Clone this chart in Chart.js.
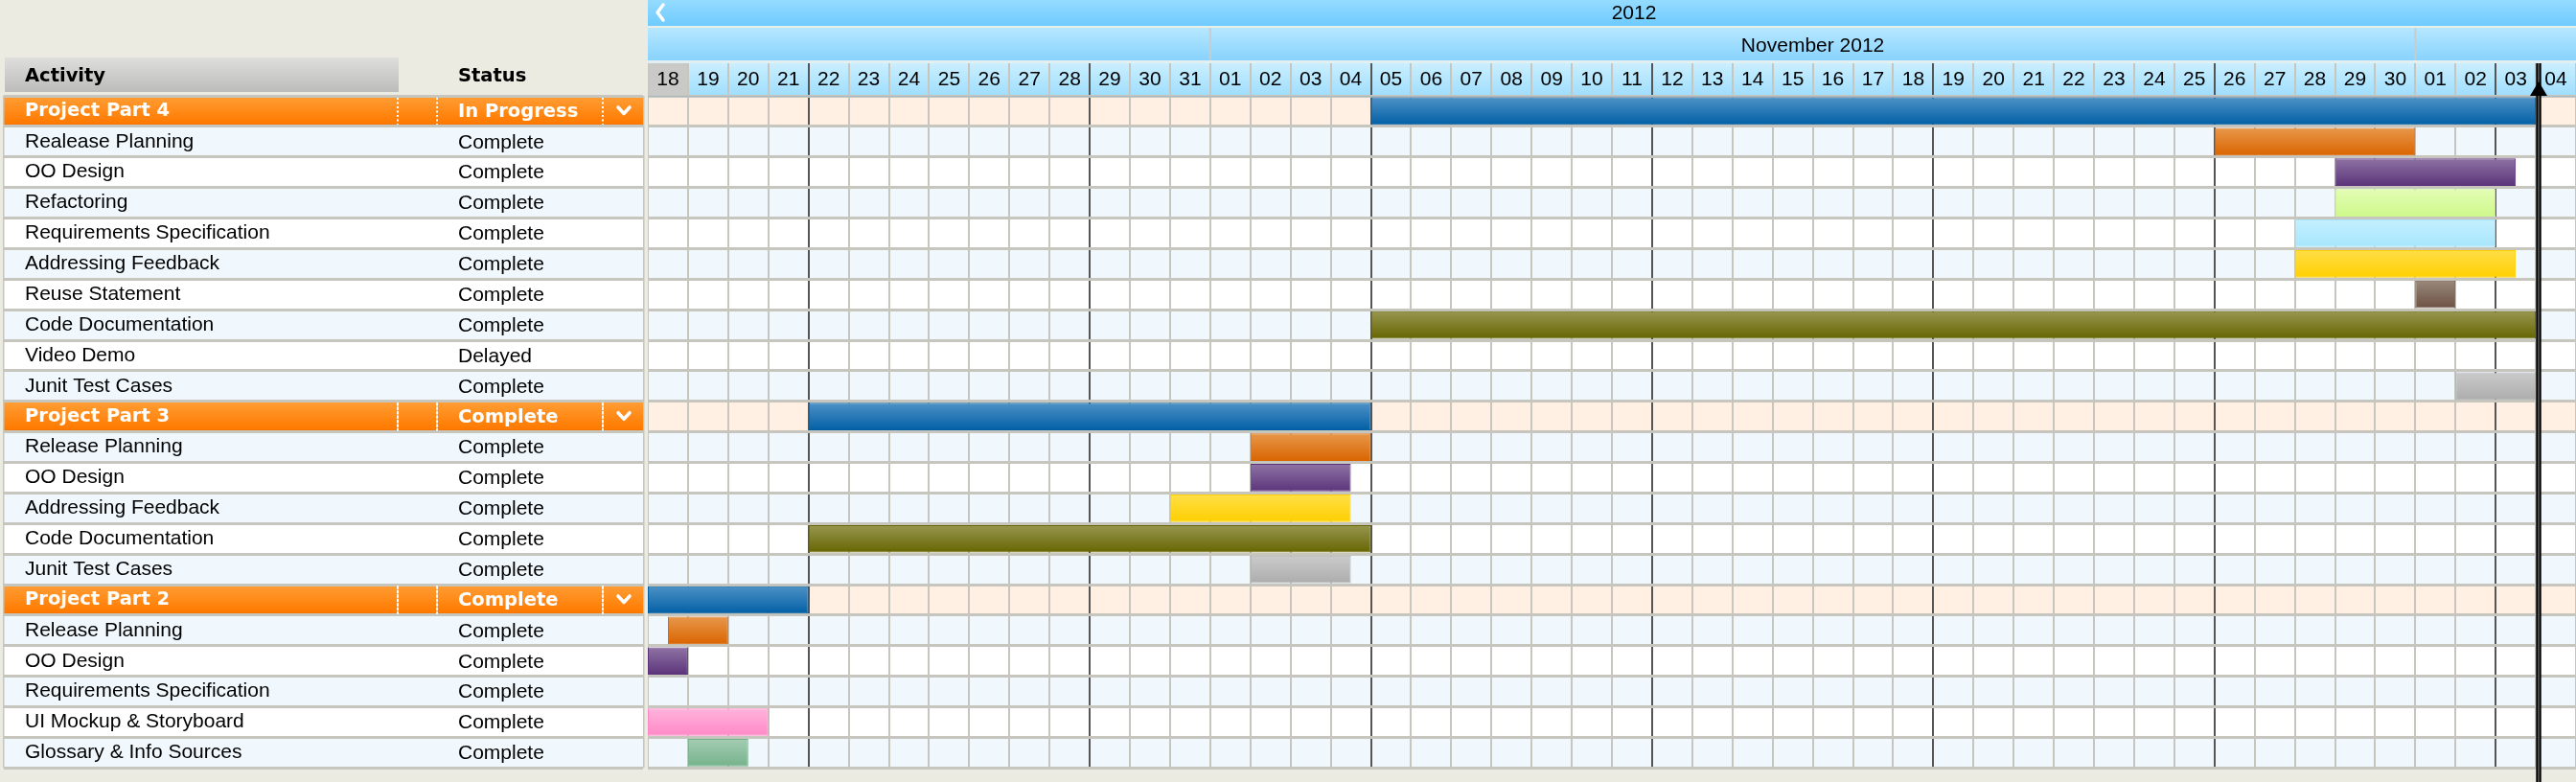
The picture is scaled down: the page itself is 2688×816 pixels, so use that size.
<!DOCTYPE html>
<html><head><meta charset="utf-8">
<script src="https://cdn.jsdelivr.net/npm/chart.js@4.4.1/dist/chart.umd.min.js"></script>
<style>html,body{margin:0;padding:0;background:#ecebe1;overflow:hidden}canvas{display:block}</style>
</head><body>
<canvas id="c" width="2688" height="816"></canvas>
<script>
// ---- data ----
const activities = [
  'Project Part 4','Realease Planning','OO Design','Refactoring','Requirements Specification',
  'Addressing Feedback','Reuse Statement','Code Documentation','Video Demo','Junit Test Cases',
  'Project Part 3','Release Planning','OO Design','Addressing Feedback','Code Documentation','Junit Test Cases',
  'Project Part 2','Release Planning','OO Design','Requirements Specification','UI Mockup & Storyboard','Glossary & Info Sources'
];
const statuses = [
  'In Progress','Complete','Complete','Complete','Complete','Complete','Complete','Complete','Delayed','Complete',
  'Complete','Complete','Complete','Complete','Complete','Complete',
  'Complete','Complete','Complete','Complete','Complete','Complete'
];
const isProject = [true,false,false,false,false,false,false,false,false,false,
  true,false,false,false,false,false,
  true,false,false,false,false,false];
// day index: 0 = 18 Oct 2012
const barStart = [18,39,42,42,41,41,44,18,null,45, 4,15,15,13,4,15, 0,0.5,0,null,0,1];
const barEnd   = [47,44,46.5,46,46,46.5,45,47,null,47, 18,18,17.5,17.5,18,17.5, 4,2,1,null,3,2.5];
const barColorKeys = ['summary','orange','purple','lime','sky','yellow','brown','olive',null,'gray',
  'summary','orange','purple','yellow','olive','gray',
  'summary','orange','purple',null,'pink','mint'];
const dayLabels = ['18','19','20','21','22','23','24','25','26','27','28','29','30','31',
  '01','02','03','04','05','06','07','08','09','10','11','12','13','14','15','16','17','18','19','20',
  '21','22','23','24','25','26','27','28','29','30','01','02','03','04'];
const monthNames = ['November 2012'];
const monthStart = [14];
const monthEnd = [44];
const yearLabel = '2012';
const todayValue = 47.07;

// ---- styles ----
const palette = {
  summary:['#4f93c7','#005ea4'], orange:['#e8984c','#d96400'], purple:['#9074a5','#5a3379'],
  lime:['#e4fcb6','#cdf98a'], sky:['#c5f0ff','#a6e5fb'], yellow:['#ffdf48','#ffcf00'],
  brown:['#9a897c','#6b5142'], olive:['#999852','#656400'], gray:['#cbcbcb','#acacac'],
  pink:['#ffb4dc','#ff88c6'], mint:['#a6cdb4','#74b289']
};
const FONT_REG = {family:'Liberation Sans', size:21};
const FONT_BOLD = {family:'DejaVu Sans', size:19.5, weight:'bold'};
const BEIGE = '#ecebe1';

function rowBounds(y, i){
  return [y.getPixelForValue(i-0.5), y.getPixelForValue(i+0.5)];
}
function stripeIndex(i){
  let k=0; for(let j=i;j>=0 && !isProject[j];j--) k++; return k;
}

const backPlugin = {
  id:'back',
  beforeDraw(chart){
    const {ctx, chartArea:ca, scales:{x, y}} = chart;
    ctx.save();
    ctx.fillStyle = BEIGE; ctx.fillRect(0,0,chart.width,chart.height);
    let g = ctx.createLinearGradient(0,0,0,27); g.addColorStop(0,'#95dbff'); g.addColorStop(1,'#6ecbff');
    ctx.fillStyle = g; ctx.fillRect(ca.left,0,ca.right-ca.left,27);
    ctx.fillStyle = '#e8efe6'; ctx.fillRect(ca.left,27,ca.right-ca.left,2);
    g = ctx.createLinearGradient(0,29,0,63); g.addColorStop(0,'#b6e7ff'); g.addColorStop(1,'#88d3fe');
    ctx.fillStyle = g; ctx.fillRect(ca.left,29,ca.right-ca.left,34);
    ctx.fillStyle = '#e2eff2'; ctx.fillRect(ca.left,63,ca.right-ca.left,3);
    g = ctx.createLinearGradient(0,66,0,100); g.addColorStop(0,'#caefff'); g.addColorStop(1,'#9fddfd');
    ctx.fillStyle = g; ctx.fillRect(ca.left,66,ca.right-ca.left,34);
    ctx.fillStyle = '#c9c9c7';
    ctx.fillRect(x.getPixelForValue(0),66,x.getPixelForValue(1)-x.getPixelForValue(0),34);
    ctx.strokeStyle = '#ffffff'; ctx.lineWidth = 3.5; ctx.lineCap='round'; ctx.lineJoin='round';
    ctx.beginPath(); ctx.moveTo(692,5); ctx.lineTo(686,13); ctx.lineTo(692,21); ctx.stroke();
    ctx.fillStyle = '#000'; ctx.textBaseline='middle'; ctx.textAlign='center';
    ctx.font = '21px "Liberation Sans"';
    ctx.fillText(yearLabel, 1705, 14);
    for(let m=0;m<monthNames.length;m++){
      const xs = x.getPixelForValue(monthStart[m]), xe = x.getPixelForValue(monthEnd[m]);
      ctx.fillStyle = '#000';
      ctx.fillText(monthNames[m], (xs+xe)/2, 48);
      ctx.fillStyle = '#c4cdd2';
      ctx.fillRect(xs-1,29,2,34); ctx.fillRect(xe-1,29,2,34);
    }
    g = ctx.createLinearGradient(0,60,0,96); g.addColorStop(0,'#dededc'); g.addColorStop(1,'#bcbcba');
    ctx.fillStyle = g; ctx.fillRect(5,60,411,36);
    ctx.fillStyle = '#000'; ctx.textAlign='left';
    ctx.font = 'bold 19.5px "DejaVu Sans"';
    ctx.fillText('Activity', 26, 80);
    ctx.fillText('Status', 478, 80);
    for(let i=0;i<activities.length;i++){
      const [t,b] = rowBounds(y,i);
      if(isProject[i]){
        g = ctx.createLinearGradient(0,t,0,b); g.addColorStop(0,'#ff9e36'); g.addColorStop(0.9,'#ff7a00'); g.addColorStop(1,'#e26a00');
        ctx.fillStyle = g; ctx.fillRect(4,t,667,b-t);
        ctx.fillStyle = '#fff0e3'; ctx.fillRect(ca.left,t,ca.right-ca.left,b-t);
      } else {
        const c = (stripeIndex(i)%2===1) ? '#f0f8fe' : '#ffffff';
        ctx.fillStyle = c; ctx.fillRect(4,t,667,b-t); ctx.fillRect(ca.left,t,ca.right-ca.left,b-t);
      }
    }
    ctx.restore();
  },
  afterDraw(chart){
    const {ctx, chartArea:ca, scales:{x, y}} = chart;
    ctx.save();
    ctx.fillStyle = BEIGE; ctx.fillRect(671,0,5,chart.height);
    ctx.fillStyle = '#c6c6be'; ctx.fillRect(671,100,1.5,ca.bottom-100);
    ctx.fillRect(3,100,1.5,ca.bottom-100);
    ctx.textBaseline='middle'; ctx.textAlign='left';
    for(let i=0;i<activities.length;i++){
      const [t,b] = rowBounds(y,i); const cy=(t+b)/2;
      if(isProject[i]){
        ctx.fillStyle='#ffffff'; ctx.font='bold 19.5px "DejaVu Sans"';
        ctx.fillText(statuses[i],478,cy+1);
        ctx.strokeStyle='#ffffff'; ctx.lineWidth=2; ctx.setLineDash([2,2.5]);
        [415,456,629].forEach(px=>{ctx.beginPath();ctx.moveTo(px,t+2);ctx.lineTo(px,b-2);ctx.stroke();});
        ctx.setLineDash([]); ctx.lineWidth=3.5; ctx.lineCap='round'; ctx.lineJoin='round';
        ctx.beginPath(); ctx.moveTo(645,cy-4); ctx.lineTo(651,cy+2.5); ctx.lineTo(657,cy-4); ctx.stroke();
      } else {
        ctx.fillStyle='#000'; ctx.font='21px "Liberation Sans"';
        ctx.fillText(statuses[i],478,cy+1);
      }
    }
    const tx = x.getPixelForValue(todayValue);
    ctx.fillStyle='#000'; ctx.fillRect(tx-2.7,66,5.4,chart.height-66);
    ctx.fillStyle='#7a7a7a'; ctx.fillRect(tx-0.6,66,1.2,chart.height-66);
    ctx.fillStyle='#000'; ctx.beginPath(); ctx.moveTo(tx,85); ctx.lineTo(tx-9,100); ctx.lineTo(tx+9,100); ctx.closePath(); ctx.fill();
    ctx.restore();
  }
};

const data = barStart.map((s,i)=> s===null ? null : [s, barEnd[i]]);

new Chart(document.getElementById('c'), {
  type:'bar',
  data:{
    labels: activities,
    datasets:[{
      data,
      barPercentage:0.9, categoryPercentage:1,
      borderWidth:1, borderSkipped:false,
      borderColor:(c)=>{ const k=barColorKeys[c.dataIndex]; return k? palette[k][1] : 'rgba(0,0,0,0)'; },
      backgroundColor:(c)=>{
        const k = barColorKeys[c.dataIndex];
        const y = c.chart.scales.y;
        if(!k || !y) return 'rgba(0,0,0,0)';
        const cy = y.getPixelForValue(c.dataIndex);
        if(!Number.isFinite(cy)) return palette[k][1];
        const g = c.chart.ctx.createLinearGradient(0,cy-15,0,cy+15);
        g.addColorStop(0,palette[k][0]); g.addColorStop(1,palette[k][1]);
        return g;
      }
    }]
  },
  options:{
    indexAxis:'y', responsive:false, animation:false, devicePixelRatio:1,
    layout:{autoPadding:false, padding:{left:26, right:0, top:0, bottom:5}},
    plugins:{legend:{display:false}, tooltip:{enabled:false}},
    scales:{
      x:{type:'linear', min:0, max:dayLabels.length, display:false},
      x2:{type:'category', axis:'x', position:'top', labels:dayLabels, offset:true,
        afterFit:(s)=>{ s.height = 100; },
        grid:{offset:true, drawTicks:true, tickLength:34, lineWidth:2,
          color:(c)=> ((c.index-4)%7===0 ? '#555555' : '#c6c6be')},
        border:{display:true, color:'#a9b9c2', width:1},
        ticks:{autoSkip:false, maxRotation:0, minRotation:0, padding:-29.6, color:'#000',
          font:{family:'Liberation Sans', size:21}}
      },
      y:{type:'category', offset:true, position:'left',
        afterFit:(s)=>{ s.width = 650; },
        grid:{offset:true, drawTicks:true, tickLength:672, lineWidth:3, color:'#c6c6be'},
        border:{display:false},
        ticks:{autoSkip:false, crossAlign:'far',
          color:(c)=> isProject[c.index] ? '#ffffff' : '#000000',
          font:(c)=> isProject[c.index] ? FONT_BOLD : FONT_REG}
      }
    }
  },
  plugins:[backPlugin]
});
</script>
</body></html>
